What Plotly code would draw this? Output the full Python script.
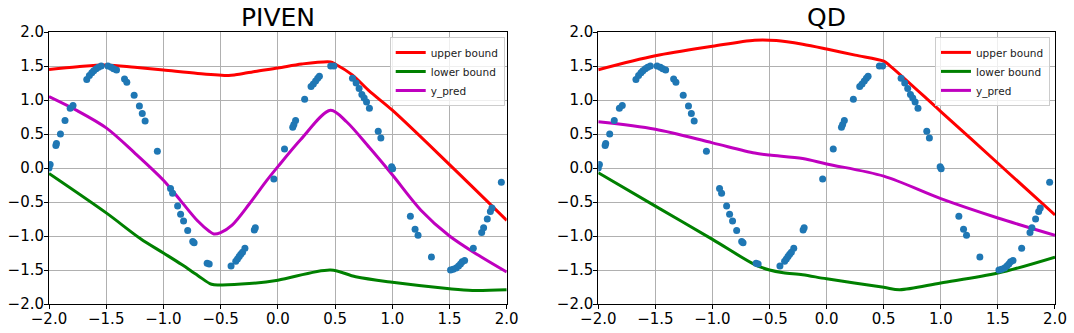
import plotly.graph_objects as go

# observed samples (same in both panels)
x_pts = [-2.0, -1.99, -1.94, -1.935, -1.90, -1.86, -1.815, -1.79, -1.67, -1.647,
         -1.626, -1.609, -1.588, -1.568, -1.544, -1.485, -1.456, -1.435, -1.41, -1.34,
         -1.32, -1.256, -1.21, -1.185, -1.16, -1.053, -0.938, -0.92, -0.876, -0.85,
         -0.824, -0.788, -0.744, -0.732, -0.618, -0.60, -0.409, -0.368, -0.353, -0.338,
         -0.324, -0.309, -0.288, -0.206, -0.197, -0.035, 0.058, 0.13, 0.14, 0.155,
         0.234, 0.29, 0.31, 0.33, 0.348, 0.363, 0.462, 0.49, 0.652, 0.684,
         0.71, 0.734, 0.754, 0.775, 0.80, 0.877, 0.90, 0.994, 1.003, 1.158,
         1.199, 1.225, 1.342, 1.509, 1.532, 1.558, 1.579, 1.596, 1.611, 1.632,
         1.708, 1.781, 1.798, 1.83, 1.857, 1.871, 1.953]
y_pts = [0.0, 0.05, 0.33, 0.36, 0.50, 0.70, 0.88, 0.92, 1.30, 1.36,
         1.40, 1.43, 1.46, 1.48, 1.50, 1.50, 1.48, 1.46, 1.44, 1.31,
         1.26, 1.07, 0.91, 0.80, 0.69, 0.245, -0.30, -0.37, -0.56, -0.68,
         -0.78, -0.92, -1.08, -1.10, -1.40, -1.41, -1.44, -1.37, -1.34, -1.30,
         -1.27, -1.24, -1.18, -0.91, -0.88, -0.16, 0.28, 0.60, 0.64, 0.70,
         1.01, 1.20, 1.235, 1.28, 1.32, 1.35, 1.50, 1.50, 1.32, 1.25,
         1.17, 1.08, 1.03, 0.97, 0.88, 0.54, 0.44, 0.02, -0.01, -0.71,
         -0.90, -0.99, -1.31, -1.50, -1.49, -1.47, -1.44, -1.41, -1.38, -1.36,
         -1.18, -0.95, -0.88, -0.75, -0.64, -0.59, -0.21]

# PIVEN
piven_upper_x = [-2.0, -1.75, -1.5, -1.25, -1.0, -0.7, -0.43, -0.37, -0.2, 0.0,
                 0.21, 0.46, 0.5, 0.65, 0.8, 1.0, 1.5, 2.0]
piven_upper_y = [1.45, 1.49, 1.515, 1.48, 1.44, 1.39, 1.36, 1.37, 1.42, 1.47,
                 1.53, 1.56, 1.53, 1.37, 1.13, 0.85, 0.05, -0.77]
piven_lower_x = [-2.0, -1.5, -1.2, -1.0, -0.84, -0.7, -0.58, -0.5, -0.25, 0.0,
                 0.46, 0.68, 1.0, 1.5, 1.7, 2.0]
piven_lower_y = [-0.08, -0.66, -1.04, -1.25, -1.42, -1.58, -1.71, -1.72, -1.70, -1.65,
                 -1.50, -1.60, -1.68, -1.775, -1.80, -1.79]
piven_pred_x = [-2.0, -1.75, -1.5, -1.25, -1.0, -0.85, -0.7, -0.6, -0.56, -0.5, -0.4,
                -0.25, -0.1, 0.0, 0.2, 0.46, 0.6, 0.8, 1.0, 1.25, 1.5, 1.75, 2.0]
piven_pred_y = [1.05, 0.84, 0.59, 0.22, -0.18, -0.48, -0.78, -0.93, -0.97, -0.95, -0.84,
                -0.53, -0.19, 0.02, 0.42, 0.85, 0.68, 0.30, -0.10, -0.62, -1.00, -1.28, -1.53]

# QD
qd_upper_x = [-2.0, -1.5, -1.0, -0.63, -0.44, -0.21, 0.0, 0.25, 0.5, 0.55, 1.0, 1.5, 2.0]
qd_upper_y = [1.445, 1.65, 1.79, 1.88, 1.875, 1.82, 1.75, 1.66, 1.57, 1.51, 0.83, 0.07, -0.69]
qd_lower_x = [-2.0, -1.5, -1.0, -0.63, -0.5, -0.38, -0.21, 0.0, 0.5, 0.64, 1.0, 1.5, 2.0]
qd_lower_y = [-0.07, -0.56, -1.05, -1.42, -1.50, -1.54, -1.57, -1.63, -1.755, -1.79,
              -1.69, -1.545, -1.31]
qd_pred_x = [-2.0, -1.5, -1.0, -0.63, -0.5, -0.21, 0.0, 0.5, 1.0, 1.5, 2.0]
qd_pred_y = [0.68, 0.57, 0.37, 0.22, 0.19, 0.14, 0.06, -0.12, -0.45, -0.735, -0.99]

panels = [
    ("x", "y", "legend", piven_upper_x, piven_upper_y, piven_lower_x, piven_lower_y,
     piven_pred_x, piven_pred_y),
    ("x2", "y2", "legend2", qd_upper_x, qd_upper_y, qd_lower_x, qd_lower_y,
     qd_pred_x, qd_pred_y),
]

fig = go.Figure()
for xa, ya, leg, ux, uy, lx, ly, px, py in panels:
    for name, xs, ys, col in [("upper bound", ux, uy, "#ff0000"),
                              ("lower bound", lx, ly, "#008000"),
                              ("y_pred", px, py, "#bf00bf")]:
        fig.add_trace(go.Scatter(x=xs, y=ys, mode="lines", name=name,
                                 line=dict(color=col, width=3, shape="spline", smoothing=0.9),
                                 xaxis=xa, yaxis=ya, legend=leg))
    fig.add_trace(go.Scatter(x=x_pts, y=y_pts, mode="markers", showlegend=False,
                             marker=dict(color="#1f77b4", size=7),
                             xaxis=xa, yaxis=ya))

axis_style = dict(range=[-2, 2], dtick=0.5, tickformat=".1f", showgrid=True,
                  gridcolor="#b0b0b0", gridwidth=1, zeroline=False,
                  showline=True, linecolor="black", linewidth=1, mirror=True,
                  ticks="outside", ticklen=4, tickcolor="black", automargin=False,
                  ticklabelstandoff=-3,
                  tickfont=dict(size=15, color="black"))

legend_style = dict(bgcolor="rgba(255,255,255,0.8)", bordercolor="#cccccc", borderwidth=1,
                    font=dict(size=10.5, color="#222222"), xanchor="right", yanchor="top",
                    itemwidth=30, tracegroupgap=0)

fig.update_layout(
    width=1074, height=333,
    margin=dict(l=49, r=19, t=32, b=29),
    plot_bgcolor="white", paper_bgcolor="white",
    font=dict(family="DejaVu Sans", color="black"),
    xaxis=dict(domain=[0, 0.455], anchor="y", **axis_style),
    yaxis=dict(domain=[0, 1], anchor="x", **axis_style),
    xaxis2=dict(domain=[0.546, 1], anchor="y2", **axis_style),
    yaxis2=dict(domain=[0, 1], anchor="x2", **axis_style),
    legend=dict(x=0.453, y=0.982, **legend_style),
    legend2=dict(x=0.995, y=0.982, **legend_style),
    annotations=[
        dict(text="PIVEN", x=0.2275, y=1.0515, xref="paper", yref="paper",
             showarrow=False, font=dict(size=25), xanchor="center", yanchor="middle"),
        dict(text="QD", x=0.773, y=1.0515, xref="paper", yref="paper",
             showarrow=False, font=dict(size=25), xanchor="center", yanchor="middle"),
    ],
)

# drop the browser's default 8px body margin so the figure fills the window
fig.write_html("out.html", config={"displayModeBar": False},
               post_script="document.body.style.margin = '0';")
